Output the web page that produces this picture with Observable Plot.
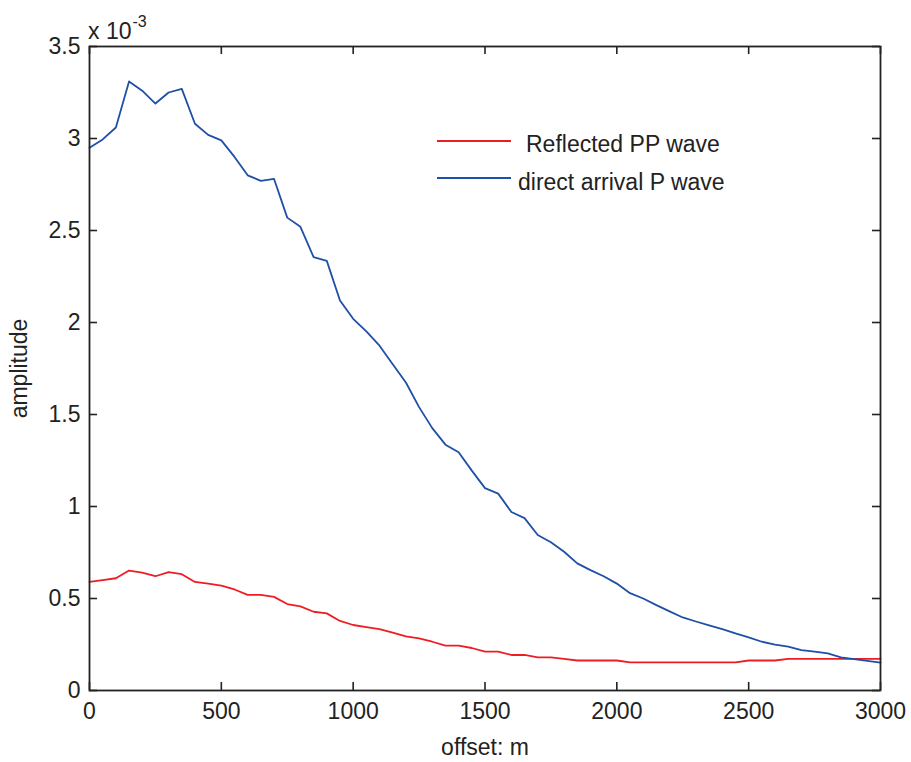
<!DOCTYPE html>
<html>
<head>
<meta charset="utf-8">
<script src="https://cdn.jsdelivr.net/npm/d3@7"></script>
<script src="https://cdn.jsdelivr.net/npm/@observablehq/plot@0.6"></script>
<style>
  body { margin: 0; background: #fff; }
  #wrap { position: relative; width: 911px; height: 762px; font-family: "Liberation Sans", Arial, sans-serif; color: #222; }
  .lg { position: absolute; font-size: 23px; line-height: 26px; white-space: nowrap; }
  .sw { position: absolute; height: 2px; width: 74px; }
</style>
</head>
<body>
<div id="wrap"></div>
<script>
// offset (m)
const offsets = [0,50,100,150,200,250,300,350,400,450,500,550,600,650,700,750,800,850,900,950,
  1000,1050,1100,1150,1200,1250,1300,1350,1400,1450,1500,1550,1600,1650,1700,1750,1800,1850,1900,1950,
  2000,2050,2100,2150,2200,2250,2300,2350,2400,2450,2500,2550,2600,2650,2700,2750,2800,2850,2900,2950,3000];
// amplitudes in units of 1e-3
const directP = [2.95,2.995,3.06,3.31,3.26,3.19,3.25,3.27,3.08,3.02,2.99,2.90,2.80,2.77,2.78,2.57,2.52,2.355,2.335,2.12,
  2.02,1.952,1.874,1.773,1.674,1.54,1.426,1.336,1.295,1.195,1.10,1.07,0.97,0.937,0.845,0.806,0.754,0.691,0.654,0.621,
  0.581,0.529,0.50,0.464,0.43,0.397,0.375,0.354,0.334,0.31,0.289,0.265,0.249,0.238,0.22,0.211,0.202,0.18,0.17,0.161,0.152];
const reflectedPP = [0.59,0.60,0.61,0.652,0.641,0.621,0.643,0.632,0.59,0.581,0.57,0.549,0.52,0.52,0.509,0.47,0.457,0.428,0.419,0.378,
  0.356,0.345,0.334,0.314,0.294,0.283,0.265,0.244,0.244,0.231,0.211,0.211,0.193,0.193,0.18,0.18,0.172,0.163,0.163,0.163,
  0.163,0.153,0.153,0.153,0.153,0.153,0.153,0.153,0.153,0.153,0.163,0.163,0.163,0.172,0.172,0.172,0.172,0.172,0.172,0.172,0.172];
const xTicks = [0,500,1000,1500,2000,2500,3000];
const yTicks = [0,0.5,1,1.5,2,2.5,3,3.5];
const seriesNames = ["Reflected PP wave", "direct arrival P wave"];
const seriesColors = ["#ee1d25", "#1f4fa6"];

const data = [];
offsets.forEach((o, i) => {
  data.push({offset: o, amp: reflectedPP[i], series: seriesNames[0]});
  data.push({offset: o, amp: directP[i], series: seriesNames[1]});
});

const W = 911, H = 762, mL = 89, mR = 31, mT = 46, mB = 72;
const fw = W - mL - mR, fh = H - mT - mB, tl = 8;

const chart = Plot.plot({
  width: W, height: H,
  marginLeft: mL, marginRight: mR, marginTop: mT, marginBottom: mB,
  style: {fontFamily: '"Liberation Sans", Arial, sans-serif', fontSize: "23px", color: "#222", background: "#fff"},
  x: {domain: [0, 3000]},
  y: {domain: [0, 3.5]},
  color: {domain: seriesNames, range: seriesColors},
  marks: [
    Plot.line(data, {x: "offset", y: "amp", z: "series", stroke: "series", strokeWidth: 1.8}),
    Plot.ruleX(xTicks, {x: d => d, insetTop: fh - tl, stroke: "#222", strokeWidth: 1.6}),
    Plot.ruleX(xTicks, {x: d => d, insetBottom: fh - tl, stroke: "#222", strokeWidth: 1.6}),
    Plot.ruleY(yTicks, {y: d => d, insetRight: fw - tl, stroke: "#222", strokeWidth: 1.6}),
    Plot.ruleY(yTicks, {y: d => d, insetLeft: fw - tl, stroke: "#222", strokeWidth: 1.6}),
    Plot.frame({stroke: "#222", strokeWidth: 1.8}),
    Plot.axisX(xTicks, {tickSize: 0, tickPadding: 12, tickFormat: d => String(d), label: "offset: m", labelAnchor: "center", labelArrow: "none", labelOffset: 64, fontSize: 23}),
    Plot.axisY(yTicks, {tickSize: 0, tickPadding: 9, tickFormat: d => String(d), label: "amplitude", labelAnchor: "center", labelArrow: "none", labelOffset: 79, fontSize: 23})
  ]
});
const wrap = document.getElementById("wrap");
wrap.appendChild(chart);

// exponent label
const ex = document.createElement("div");
ex.className = "lg";
ex.style.left = "88px"; ex.style.top = "12px";
ex.innerHTML = 'x 10<sup style="font-size:16px;position:relative;top:-3px;margin-left:1px">-3</sup>';
wrap.appendChild(ex);

// legend
const legTops = [131, 169];
const textLefts = [526, 518];
const swTops = [140, 177];
seriesNames.forEach((name, i) => {
  const sw = document.createElement("div");
  sw.className = "sw";
  sw.style.left = "437px"; sw.style.top = swTops[i] + "px";
  sw.style.background = seriesColors[i];
  wrap.appendChild(sw);
  const t = document.createElement("div");
  t.className = "lg";
  t.style.left = textLefts[i] + "px"; t.style.top = legTops[i] + "px";
  t.textContent = name;
  wrap.appendChild(t);
});
</script>
</body>
</html>
